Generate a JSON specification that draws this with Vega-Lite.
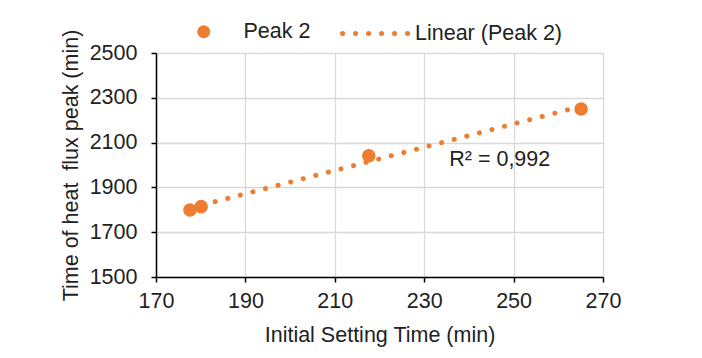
{
  "$schema": "https://vega.github.io/schema/vega-lite/v6.json",
  "width": 447,
  "height": 224,
  "autosize": {"type": "none"},
  "padding": {"left": 156, "top": 53, "right": 99, "bottom": 81},
  "background": "white",
  "config": {
    "font": "Liberation Sans",
    "view": {"stroke": null},
    "axis": {
      "labelFont": "Liberation Sans",
      "titleFont": "Liberation Sans",
      "labelFontSize": 21.5,
      "titleFontSize": 21.5,
      "titleFontWeight": "normal",
      "labelColor": "#222222",
      "titleColor": "#222222",
      "gridColor": "#d9d9d9",
      "gridWidth": 1.3,
      "domainColor": "#000000",
      "domainWidth": 1.5,
      "tickColor": "#000000",
      "tickWidth": 1.5,
      "tickSize": 5
    },
    "legend": {"labelFont": "Liberation Sans", "labelFontSize": 21.5, "labelColor": "#222222", "padding": 0}
  },
  "datasets": {
    "peaks": [
      {"t": 177.6, "peak": 1799},
      {"t": 180.1, "peak": 1814},
      {"t": 217.6, "peak": 2041},
      {"t": 265.1, "peak": 2250}
    ],
    "note": [
      {"t": 235.6, "peak": 2024, "label": "R² = 0,992"}
    ]
  },
  "encoding": {
    "x": {
      "field": "t", "type": "quantitative",
      "scale": {"domain": [170, 270], "nice": false, "zero": false},
      "axis": {"title": "Initial Setting Time (min)", "values": [170, 190, 210, 230, 250, 270], "labelPadding": 8, "titlePadding": 13, "labelOverlap": false, "labelFlush": false}
    },
    "y": {
      "field": "peak", "type": "quantitative",
      "scale": {"domain": [1500, 2500], "nice": false, "zero": false},
      "axis": {"title": "Time of heat\u00a0 flux peak (min)", "values": [1500, 1700, 1900, 2100, 2300, 2500], "format": "d", "labelPadding": 14, "titlePadding": 7, "labelOverlap": false}
    }
  },
  "layer": [
    {
      "data": {"name": "peaks"},
      "transform": [{"regression": "peak", "on": "t"}],
      "mark": {"type": "line", "strokeWidth": 5, "strokeCap": "round", "color": "#ED7D31"},
      "encoding": {
        "strokeDash": {
          "datum": "Linear (Peak 2)", "type": "nominal",
          "scale": {"domain": ["Linear (Peak 2)"], "range": [[0.1, 12.9]]},
          "legend": {
            "title": null,
            "orient": "none",
            "legendX": 184,
            "legendY": -57,
            "symbolType": "stroke",
            "symbolSize": 4900,
            "symbolStrokeWidth": 5,
            "symbolStrokeColor": "#ED7D31",
            "labelOffset": 0,
            "encode": {"symbols": {"update": {"strokeCap": {"value": "round"}, "strokeDash": {"value": [0.1, 13.3]}, "opacity": {"value": 1}}}}
          }
        }
      }
    },
    {
      "data": {"name": "peaks"},
      "mark": {"type": "point", "filled": true, "opacity": 1, "size": 185, "color": "#ED7D31"},
      "encoding": {
        "shape": {
          "datum": "Peak 2", "type": "nominal",
          "scale": {"domain": ["Peak 2"], "range": ["circle"]},
          "legend": {
            "title": null,
            "orient": "none",
            "legendX": 37,
            "legendY": -32,
            "symbolSize": 170,
            "symbolFillColor": "#ED7D31",
            "symbolStrokeColor": "#ED7D31",
            "symbolStrokeWidth": 0,
            "symbolOpacity": 1,
            "labelOffset": 29
          }
        }
      }
    },
    {
      "data": {"name": "note"},
      "mark": {"type": "text", "align": "left", "baseline": "middle", "fontSize": 21.5, "font": "Liberation Sans", "color": "#222222"},
      "encoding": {"text": {"field": "label"}}
    }
  ]
}
